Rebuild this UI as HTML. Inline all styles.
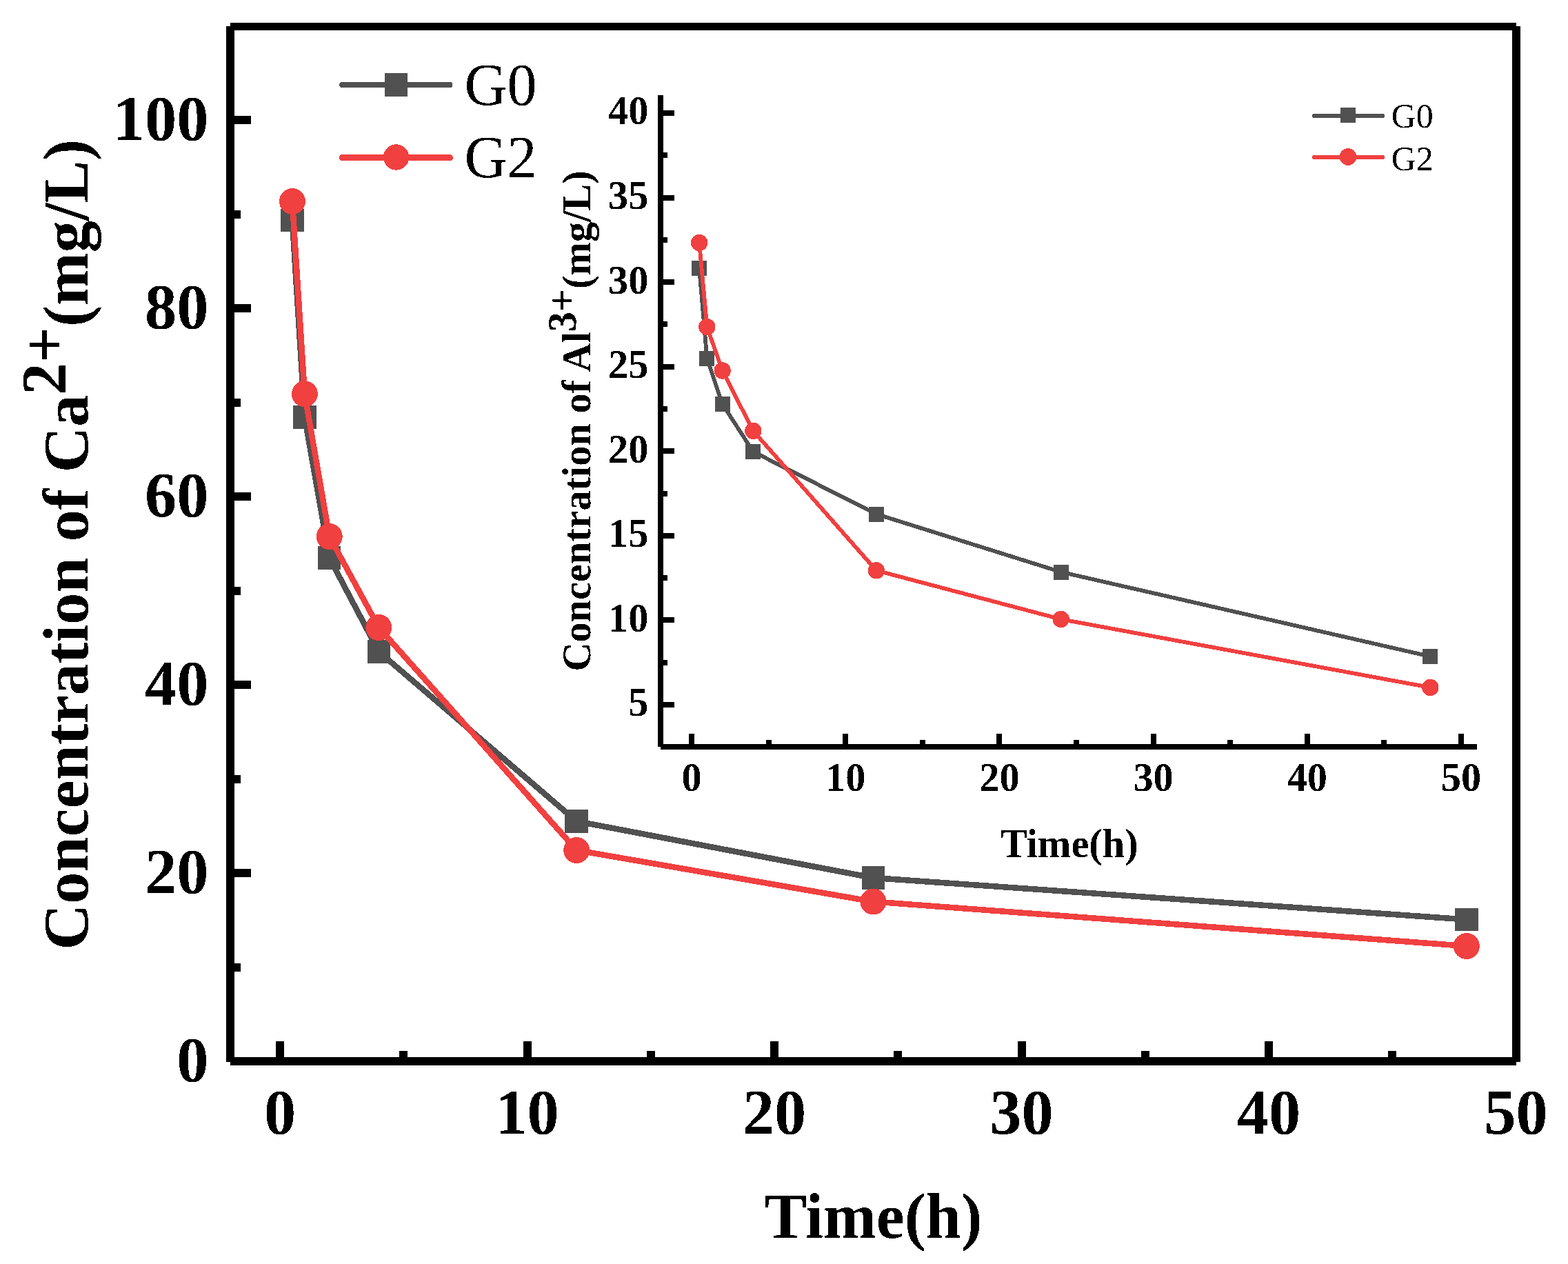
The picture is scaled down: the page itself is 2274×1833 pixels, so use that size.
<!DOCTYPE html>
<html><head><meta charset="utf-8"><title>Concentration vs Time</title>
<style>html,body{margin:0;padding:0;background:#fff;}body{width:2274px;height:1833px;overflow:hidden;}svg{display:block;}</style>
</head><body>
<svg xmlns="http://www.w3.org/2000/svg" width="2274" height="1833" viewBox="0 0 2274 1833" shape-rendering="crispEdges">
<defs><filter id="crisp" x="-5%" y="-5%" width="110%" height="110%"><feComponentTransfer><feFuncA type="discrete" tableValues="0 1"/></feComponentTransfer></filter></defs>
<rect x="0" y="0" width="2274" height="1833" fill="#fff"/>
<g fill="#000">
<rect x="334" y="33" width="1865" height="11"/>
<rect x="334" y="1533" width="1865" height="12"/>
<rect x="328" y="38" width="12" height="1502"/>
<rect x="2193" y="38" width="12" height="1502"/>
<rect x="340" y="1533" width="24" height="12"/>
<rect x="340" y="1260" width="24" height="12"/>
<rect x="340" y="987" width="24" height="12"/>
<rect x="340" y="714" width="24" height="12"/>
<rect x="340" y="441" width="24" height="12"/>
<rect x="340" y="168" width="24" height="12"/>
<rect x="340" y="1397" width="9" height="12"/>
<rect x="340" y="1124" width="9" height="12"/>
<rect x="340" y="851" width="9" height="12"/>
<rect x="340" y="578" width="9" height="12"/>
<rect x="340" y="305" width="9" height="12"/>
<rect x="400" y="1510" width="12" height="23"/>
<rect x="759" y="1510" width="12" height="23"/>
<rect x="1117" y="1510" width="12" height="23"/>
<rect x="1476" y="1510" width="12" height="23"/>
<rect x="1834" y="1510" width="12" height="23"/>
<rect x="2193" y="1510" width="12" height="23"/>
<rect x="579" y="1524" width="12" height="9"/>
<rect x="938" y="1524" width="12" height="9"/>
<rect x="1296" y="1524" width="12" height="9"/>
<rect x="1655" y="1524" width="12" height="9"/>
<rect x="2013" y="1524" width="12" height="9"/>
</g>
<g filter="url(#crisp)" font-family="'Liberation Serif', 'Times New Roman', serif" font-weight="bold" font-size="92.3" fill="#000">
<text x="302.3" y="1567.8" text-anchor="end">0</text>
<text x="302.3" y="1294.8" text-anchor="end">20</text>
<text x="302.3" y="1021.8" text-anchor="end">40</text>
<text x="302.3" y="748.8" text-anchor="end">60</text>
<text x="302.3" y="475.8" text-anchor="end">80</text>
<text x="302.3" y="202.8" text-anchor="end">100</text>
<text x="406" y="1644" text-anchor="middle">0</text>
<text x="764.5" y="1644" text-anchor="middle">10</text>
<text x="1123" y="1644" text-anchor="middle">20</text>
<text x="1481.5" y="1644" text-anchor="middle">30</text>
<text x="1840" y="1644" text-anchor="middle">40</text>
<text x="2198.5" y="1644" text-anchor="middle">50</text>
<text x="1266.5" y="1795" text-anchor="middle">Time(h)</text>
<text transform="translate(127.3 789.7) rotate(-90)" text-anchor="middle">Concentration of Ca<tspan dy="-32">2+</tspan><tspan dy="32">(mg/L)</tspan></text>
</g>
<polyline points="423.93,319.5 441.85,605 477.7,809 549.4,945 836.2,1191 1266.4,1273 2126.8,1333.5" fill="none" stroke="#515151" stroke-width="8.5" stroke-linejoin="round" stroke-linecap="round"/>
<rect x="407.18" y="302.75" width="33.5" height="33.5" fill="#515151"/>
<rect x="425.1" y="588.25" width="33.5" height="33.5" fill="#515151"/>
<rect x="460.95" y="792.25" width="33.5" height="33.5" fill="#515151"/>
<rect x="532.65" y="928.25" width="33.5" height="33.5" fill="#515151"/>
<rect x="819.45" y="1174.25" width="33.5" height="33.5" fill="#515151"/>
<rect x="1249.65" y="1256.25" width="33.5" height="33.5" fill="#515151"/>
<rect x="2110.05" y="1316.75" width="33.5" height="33.5" fill="#515151"/>
<polyline points="423.93,292 441.85,571.3 477.7,778 549.4,910 836.2,1233 1266.4,1307.5 2126.8,1372" fill="none" stroke="#F14040" stroke-width="8.5" stroke-linejoin="round" stroke-linecap="round"/>
<circle cx="423.93" cy="292" r="19" fill="#F14040"/>
<circle cx="441.85" cy="571.3" r="19" fill="#F14040"/>
<circle cx="477.7" cy="778" r="19" fill="#F14040"/>
<circle cx="549.4" cy="910" r="19" fill="#F14040"/>
<circle cx="836.2" cy="1233" r="19" fill="#F14040"/>
<circle cx="1266.4" cy="1307.5" r="19" fill="#F14040"/>
<circle cx="2126.8" cy="1372" r="19" fill="#F14040"/>
<line x1="496.2" y1="123" x2="652.5" y2="123" stroke="#515151" stroke-width="8" stroke-linecap="round"/>
<rect x="558" y="106" width="33" height="34" fill="#515151"/>
<line x1="496.2" y1="228.6" x2="652.5" y2="228.6" stroke="#F14040" stroke-width="9" stroke-linecap="round"/>
<circle cx="574.6" cy="228" r="18.7" fill="#F14040"/>
<g filter="url(#crisp)" font-family="'Liberation Serif', 'Times New Roman', serif" font-size="86.0" fill="#000">
<text x="673.4" y="152.3">G0</text>
<text x="673.4" y="257.2">G2</text>
</g>
<g fill="#000">
<rect x="954" y="138" width="8" height="945"/>
<rect x="958" y="1079" width="1184" height="8"/>
<rect x="962" y="1018" width="16" height="8"/>
<rect x="962" y="895" width="16" height="8"/>
<rect x="962" y="773" width="16" height="8"/>
<rect x="962" y="650" width="16" height="8"/>
<rect x="962" y="528" width="16" height="8"/>
<rect x="962" y="405" width="16" height="8"/>
<rect x="962" y="283" width="16" height="8"/>
<rect x="962" y="160" width="16" height="8"/>
<rect x="962" y="957" width="6" height="8"/>
<rect x="962" y="834" width="6" height="8"/>
<rect x="962" y="712" width="6" height="8"/>
<rect x="962" y="589" width="6" height="8"/>
<rect x="962" y="466" width="6" height="8"/>
<rect x="962" y="344" width="6" height="8"/>
<rect x="962" y="221" width="6" height="8"/>
<rect x="999" y="1064" width="8" height="15"/>
<rect x="1222" y="1064" width="8" height="15"/>
<rect x="1445" y="1064" width="8" height="15"/>
<rect x="1669" y="1064" width="8" height="15"/>
<rect x="1892" y="1064" width="8" height="15"/>
<rect x="2115" y="1064" width="8" height="15"/>
<rect x="1111" y="1073" width="8" height="6"/>
<rect x="1334" y="1073" width="8" height="6"/>
<rect x="1557" y="1073" width="8" height="6"/>
<rect x="1780" y="1073" width="8" height="6"/>
<rect x="2003" y="1073" width="8" height="6"/>
</g>
<g filter="url(#crisp)" font-family="'Liberation Serif', 'Times New Roman', serif" font-weight="bold" font-size="58.3" fill="#000">
<text x="940.3" y="1038.4" text-anchor="end">5</text>
<text x="940.3" y="915.83" text-anchor="end">10</text>
<text x="940.3" y="793.26" text-anchor="end">15</text>
<text x="940.3" y="670.69" text-anchor="end">20</text>
<text x="940.3" y="548.12" text-anchor="end">25</text>
<text x="940.3" y="425.55" text-anchor="end">30</text>
<text x="940.3" y="302.98" text-anchor="end">35</text>
<text x="940.3" y="180.41" text-anchor="end">40</text>
<text x="1003" y="1147.4" text-anchor="middle">0</text>
<text x="1226.2" y="1147.4" text-anchor="middle">10</text>
<text x="1449.4" y="1147.4" text-anchor="middle">20</text>
<text x="1672.6" y="1147.4" text-anchor="middle">30</text>
<text x="1895.8" y="1147.4" text-anchor="middle">40</text>
<text x="2119" y="1147.4" text-anchor="middle">50</text>
<text x="1550.7" y="1243" text-anchor="middle">Time(h)</text>
<text transform="translate(856.2 610.5) rotate(-90)" text-anchor="middle">Concentration of Al<tspan dy="-21">3+</tspan><tspan dy="21">(mg/L)</tspan></text>
</g>
<polyline points="1014.16,388.9 1025.32,519.9 1047.64,585.9 1092.28,655 1270.84,745.5 1538.68,829.5 2074.36,952" fill="none" stroke="#515151" stroke-width="5.8" stroke-linejoin="round" stroke-linecap="round"/>
<rect x="1003.16" y="377.9" width="22" height="22" fill="#515151"/>
<rect x="1014.32" y="508.9" width="22" height="22" fill="#515151"/>
<rect x="1036.64" y="574.9" width="22" height="22" fill="#515151"/>
<rect x="1081.28" y="644" width="22" height="22" fill="#515151"/>
<rect x="1259.84" y="734.5" width="22" height="22" fill="#515151"/>
<rect x="1527.68" y="818.5" width="22" height="22" fill="#515151"/>
<rect x="2063.36" y="941" width="22" height="22" fill="#515151"/>
<polyline points="1014.16,352 1025.32,474 1047.64,537.5 1092.28,624.8 1270.84,827.3 1538.68,898 2074.36,997" fill="none" stroke="#F14040" stroke-width="5.8" stroke-linejoin="round" stroke-linecap="round"/>
<circle cx="1014.16" cy="352" r="12.2" fill="#F14040"/>
<circle cx="1025.32" cy="474" r="12.2" fill="#F14040"/>
<circle cx="1047.64" cy="537.5" r="12.2" fill="#F14040"/>
<circle cx="1092.28" cy="624.8" r="12.2" fill="#F14040"/>
<circle cx="1270.84" cy="827.3" r="12.2" fill="#F14040"/>
<circle cx="1538.68" cy="898" r="12.2" fill="#F14040"/>
<circle cx="2074.36" cy="997" r="12.2" fill="#F14040"/>
<line x1="1906" y1="168.1" x2="2005" y2="168.1" stroke="#515151" stroke-width="6" stroke-linecap="round"/>
<rect x="1944" y="156" width="22" height="22" fill="#515151"/>
<line x1="1906" y1="228" x2="2005" y2="228" stroke="#F14040" stroke-width="6" stroke-linecap="round"/>
<circle cx="1955" cy="227.4" r="12.4" fill="#F14040"/>
<g filter="url(#crisp)" font-family="'Liberation Serif', 'Times New Roman', serif" font-size="49.8" fill="#000">
<text x="2017.7" y="185.3">G0</text>
<text x="2017.7" y="246.5">G2</text>
</g>
</svg>
</body></html>
